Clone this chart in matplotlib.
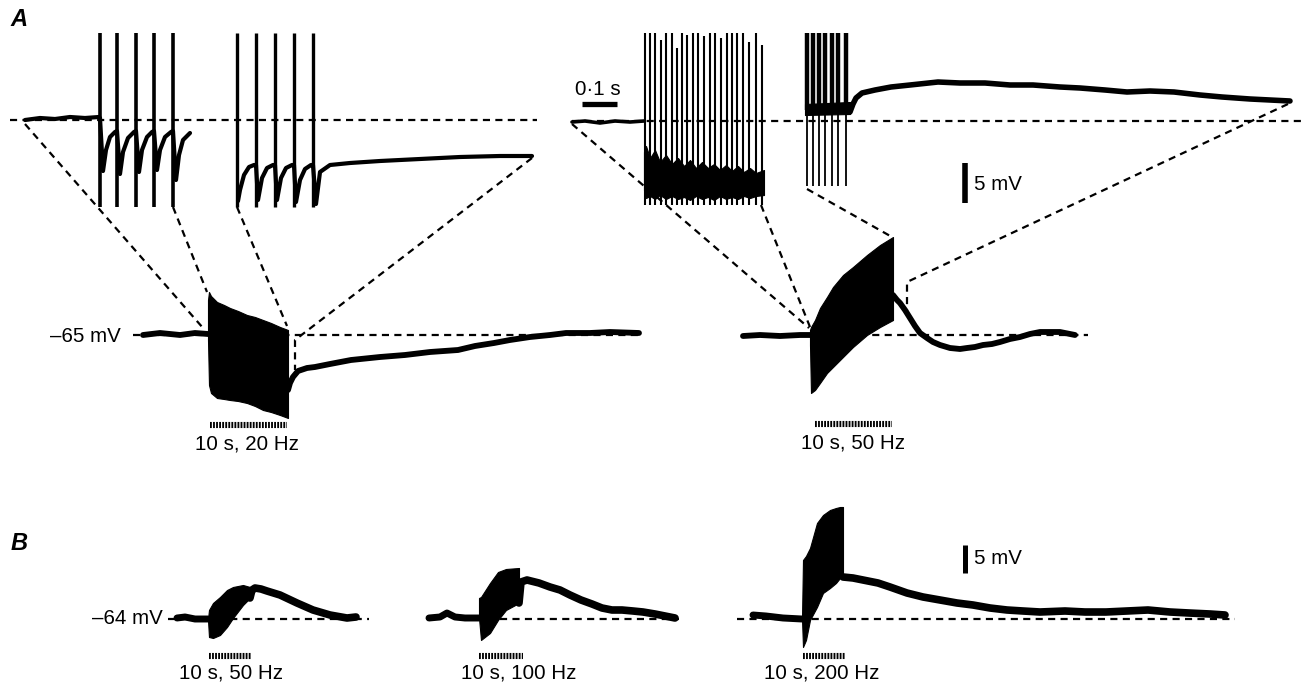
import matplotlib
matplotlib.use("Agg")
import matplotlib.pyplot as plt

plt.rcParams['font.family'] = ['Liberation Sans', 'DejaVu Sans']

# ---- panel A, expanded 20 Hz inset (pixel coords of the figure) ----
a20_spk1 = [100, 117, 136, 154, 173]
a20_tr1_x = [25, 40, 55, 70, 85, 99, 100, 103, 106, 110, 115, 117, 120, 123, 128, 134, 136, 139, 142, 147, 152,
             154, 157, 160, 165, 171, 173, 176, 179, 183, 190]
a20_tr1_y = [120, 118, 119, 117, 118, 117, 118, 171, 150, 137, 132, 131, 174, 152, 138, 132, 131, 172, 150, 137,
             132, 131, 170, 150, 137, 132, 131, 180, 155, 140, 133]
a20_spk2 = [237, 256, 275, 294, 313]
a20_tr2_x = [238, 240, 244, 249, 254, 256, 258, 262, 267, 273, 275, 277, 281, 286, 292, 294, 296, 300, 305, 311,
             313, 316, 320, 330, 350, 380, 420, 460, 500, 532]
a20_tr2_y = [201, 190, 175, 167, 165, 165, 200, 178, 168, 165, 165, 200, 178, 168, 165, 165, 202, 180, 169, 165,
             165, 204, 172, 165, 163, 161, 159, 157, 156, 156]

# ---- panel A, expanded 50 Hz inset ----
a50_base_x = [572, 585, 600, 615, 630, 644]
a50_base_y = [122, 121, 123, 121, 122, 121]
a50_spk1 = [645, 650, 655, 661, 666, 672, 677, 682, 687, 693, 698, 704, 710, 715, 721, 727, 732, 737, 743, 749,
            756, 762]
a50_spk1_top = [33, 33, 33, 40, 33, 33, 48, 33, 35, 33, 33, 36, 33, 33, 38, 33, 33, 33, 33, 42, 33, 45]
a50_mass_x = [644, 646, 650, 655, 660, 666, 672, 678, 684, 690, 696, 702, 708, 714, 720, 726, 732, 738, 744, 750,
              756, 764]
a50_mass_top = [152, 146, 158, 150, 162, 155, 164, 158, 166, 160, 168, 162, 168, 164, 170, 165, 171, 166, 172,
                168, 173, 170]
a50_mass_bot = [190, 198, 196, 199, 195, 199, 196, 199, 197, 200, 196, 199, 197, 200, 196, 199, 197, 199, 196,
                198, 196, 195]
a50_spk2 = [807, 813, 819, 825, 832, 838, 846]
a50_band_x = [805, 850]
a50_band_top = [104, 102]
a50_band_bot = [115, 114]
a50_tr_x = [850, 853, 856, 862, 875, 891, 910, 938, 960, 985, 1010, 1033, 1060, 1080, 1105, 1127, 1150, 1174,
            1200, 1222, 1250, 1270, 1290]
a50_tr_y = [112, 104, 98, 93, 90, 87, 85, 82, 83, 83, 85, 85, 87, 88, 90, 92, 91, 92, 95, 97, 99, 100, 101]

# ---- panel A, full 20 Hz response ----
r20_base_x = [143, 160, 180, 195, 208]
r20_base_y = [335, 333, 335, 333, 334]
r20_x = [208, 209, 211, 217, 224, 230, 238, 247, 255, 263, 271, 280, 288]
r20_top = [300, 292, 296, 302, 305, 308, 311, 315, 317, 320, 323, 327, 330]
r20_bot = [340, 385, 393, 398, 399, 400, 401, 403, 406, 410, 412, 415, 418]
r20_after_x = [288, 290, 293, 298, 307, 315, 330, 351, 380, 405, 430, 458, 475, 494, 510, 530, 550, 566, 590,
               610, 639]
r20_after_y = [390, 383, 377, 371, 368, 367, 364, 360, 357, 355, 352, 350, 346, 343, 340, 337, 335, 333, 333,
               332, 333]

# ---- panel A, full 50 Hz response ----
r50_base_x = [743, 760, 780, 800, 810]
r50_base_y = [336, 335, 336, 335, 335]
r50_x = [810, 811, 815, 820, 827, 833, 843, 853, 867, 880, 893]
r50_top = [330, 327, 320, 308, 297, 287, 275, 267, 255, 245, 237]
r50_bot = [345, 393, 390, 383, 373, 367, 357, 347, 335, 327, 320]
r50_after_x = [893, 897, 900, 905, 910, 915, 920, 927, 933, 940, 950, 960, 967, 975, 983, 992, 1000, 1010, 1020,
               1030, 1040, 1050, 1060, 1075]
r50_after_y = [295, 300, 303, 310, 318, 326, 333, 338, 342, 345, 348, 349, 348, 347, 345, 344, 342, 339, 337,
               334, 332, 332, 332, 335]

# ---- panel B ----
b50_base_x = [177, 185, 195, 208]
b50_base_y = [618, 617, 619, 619]
b50_x = [208, 209, 213, 220, 227, 233, 243, 250]
b50_top = [619, 610, 603, 597, 590, 587, 585, 587]
b50_bot = [620, 637, 638, 635, 627, 618, 605, 598]
b50_after_x = [250, 252, 255, 261, 267, 280, 297, 313, 330, 347, 356]
b50_after_y = [598, 590, 588, 589, 591, 595, 603, 610, 615, 618, 617]

b100_base_x = [429, 440, 447, 455, 465, 479]
b100_base_y = [618, 617, 613, 617, 618, 618]
b100_x = [479, 481, 490, 498, 506, 519]
b100_top = [598, 597, 583, 572, 569, 568]
b100_bot = [618, 640, 633, 620, 610, 603]
b100_after_x = [519, 521, 527, 539, 550, 560, 570, 581, 592, 602, 612, 622, 633, 643, 655, 665, 675]
b100_after_y = [603, 582, 580, 583, 587, 590, 595, 600, 604, 608, 610, 610, 611, 612, 614, 616, 618]

b200_base_x = [753, 766, 783, 802]
b200_base_y = [615, 616, 618, 619]
b200_x = [802, 803, 806, 810, 817, 823, 830, 836, 840, 843]
b200_top = [619, 560, 556, 548, 523, 515, 510, 508, 507, 507]
b200_bot = [619, 647, 640, 620, 607, 593, 588, 583, 578, 575]
b200_after_x = [843, 853, 868, 878, 890, 907, 923, 940, 957, 973, 990, 1007, 1023, 1040, 1065, 1085, 1106, 1127,
                1148, 1170, 1189, 1210, 1225]
b200_after_y = [577, 578, 581, 583, 587, 593, 597, 600, 603, 605, 608, 610, 611, 612, 611, 612, 612, 611, 610,
                612, 613, 614, 615]

stim_labels = ["10 s, 20 Hz", "10 s, 50 Hz", "10 s, 50 Hz", "10 s, 100 Hz", "10 s, 200 Hz"]

fig = plt.figure(figsize=(13.01, 6.84), dpi=100)
ax = fig.add_axes([0, 0, 1, 1])
ax.set_xlim(0, 1301)
ax.set_ylim(684, 0)
ax.axis('off')

K = 'black'
FS = 14.8
DSH = dict(color=K, lw=1.6, linestyle=(0, (3.2, 2.4)), zorder=1)


def dashed(xs, ys):
    ax.plot(xs, ys, **DSH)


def trace(xs, ys, lw=3.6):
    ax.plot(xs, ys, color=K, lw=lw, solid_joinstyle='round', solid_capstyle='round', zorder=3)


def burst(xs, top, bot):
    ax.fill_between(xs, top, bot, color=K, lw=0.8, edgecolor=K, zorder=3)


def stim(x0, x1, y):
    ax.plot([x0, x1], [y, y], color=K, lw=4.4, dashes=(0.3, 0.2), solid_capstyle='butt', zorder=3)


# ---------------- panel A ----------------
ax.text(19, 20, "A", fontsize=17, style='italic', weight='bold', va='center', ha='center')

# baselines of expanded insets
dashed([10, 537], [120, 120])
dashed([572, 1301], [121, 121])

trace(a20_tr1_x, a20_tr1_y, 3.0)
ax.vlines(a20_spk1, 33, 207, color=K, lw=2.6, zorder=3)
trace(a20_tr2_x, a20_tr2_y, 3.0)
ax.vlines(a20_spk2, 33, 207, color=K, lw=2.4, zorder=3)

trace(a50_base_x, a50_base_y, 2.6)
burst(a50_mass_x, a50_mass_top, a50_mass_bot)
ax.vlines(a50_spk1, a50_spk1_top, 205, color=K, lw=1.5, zorder=3)
burst(a50_band_x, a50_band_top, a50_band_bot)
ax.vlines(a50_spk2, 33, 110, color=K, lw=3.2, zorder=3)
ax.vlines(a50_spk2, 110, 186, color=K, lw=1.3, zorder=3)
trace(a50_tr_x, a50_tr_y, 4.0)

# scale bars
ax.plot([582, 617], [104, 104], color=K, lw=3.8, solid_capstyle='butt')
ax.text(598, 95, "0·1 s", fontsize=FS, ha='center', va='baseline')
ax.plot([965, 965], [163, 203], color=K, lw=4, solid_capstyle='butt')
ax.text(974, 184, "5 mV", fontsize=FS, ha='left', va='center')

# full responses
ax.text(121, 336, "\u201365 mV", fontsize=FS, ha='right', va='center')
dashed([133, 638], [335, 335])
trace(r20_base_x, r20_base_y, 4.2)
burst(r20_x, r20_top, r20_bot)
trace(r20_after_x, r20_after_y, 4.2)
stim(210, 287, 425)
ax.text(247, 444, stim_labels[0], fontsize=FS, ha='center', va='center')

dashed([810, 1088], [335, 335])
trace(r50_base_x, r50_base_y, 4.2)
burst(r50_x, r50_top, r50_bot)
trace(r50_after_x, r50_after_y, 4.2)
stim(815, 892, 424)
ax.text(853, 443, stim_labels[1], fontsize=FS, ha='center', va='center')

# connectors from insets to full responses
dashed([25, 203], [124, 328])
dashed([173, 207], [207, 292])
dashed([237, 287], [207, 326])
dashed([532, 295, 295], [158, 340, 370])
dashed([572, 809], [124, 328])
dashed([761, 810], [205, 327])
dashed([807, 892], [189, 237])
dashed([1288, 907, 907], [104, 282, 313])

# ---------------- panel B ----------------
ax.text(19, 543, "B", fontsize=17, style='italic', weight='bold', va='center', ha='center')
ax.text(163, 619, "\u201364 mV", fontsize=FS, ha='right', va='center')

dashed([168, 369], [619, 619])
trace(b50_base_x, b50_base_y, 5.0)
burst(b50_x, b50_top, b50_bot)
trace(b50_after_x, b50_after_y, 5.5)
stim(209, 251, 656)
ax.text(231, 673, stim_labels[2], fontsize=FS, ha='center', va='center')

dashed([500, 679], [619, 619])
trace(b100_base_x, b100_base_y, 5.0)
burst(b100_x, b100_top, b100_bot)
trace(b100_after_x, b100_after_y, 5.5)
stim(479, 523, 656)
ax.text(519, 673, stim_labels[3], fontsize=FS, ha='center', va='center')

dashed([737, 1235], [619, 619])
trace(b200_base_x, b200_base_y, 5.0)
burst(b200_x, b200_top, b200_bot)
trace(b200_after_x, b200_after_y, 5.5)
stim(803, 845, 656)
ax.text(822, 673, stim_labels[4], fontsize=FS, ha='center', va='center')

ax.plot([965, 965], [545, 573], color=K, lw=3.6, solid_capstyle='butt')
ax.text(974, 559, "5 mV", fontsize=FS, ha='left', va='center')

fig.savefig("out.png", dpi=100)
